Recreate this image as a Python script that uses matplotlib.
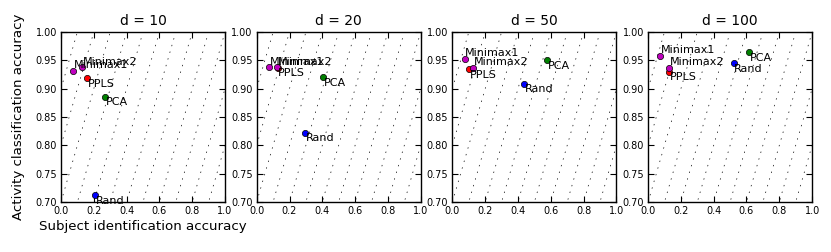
import numpy as np
import matplotlib
matplotlib.use("Agg")
import matplotlib.pyplot as plt

titles = ["d = 10", "d = 20", "d = 50", "d = 100"]
methods = ["Rand", "PCA", "PPLS", "Minimax2", "Minimax1"]
colors = {"Rand": "b", "PCA": "g", "PPLS": "r", "Minimax2": "m", "Minimax1": "m"}

# subject identification accuracy (x) per panel, in order of `methods`
subj_acc = [
    [0.205, 0.266, 0.160, 0.126, 0.075],
    [0.294, 0.407, 0.127, 0.125, 0.074],
    [0.439, 0.579, 0.102, 0.127, 0.074],
    [0.521, 0.618, 0.129, 0.129, 0.070],
]
# activity classification accuracy (y)
act_acc = [
    [0.712, 0.886, 0.918, 0.938, 0.932],
    [0.822, 0.920, 0.937, 0.938, 0.938],
    [0.909, 0.950, 0.934, 0.937, 0.953],
    [0.945, 0.964, 0.930, 0.937, 0.958],
]
# offsets of dotted iso-lines y = x + b
iso_offsets = np.arange(-0.3, 1.01, 0.1)

xticks = [0.0, 0.2, 0.4, 0.6, 0.8, 1.0]
yticks = [0.70, 0.75, 0.80, 0.85, 0.90, 0.95, 1.00]

plt.rcParams['font.family'] = ['DejaVu Sans']
fig = plt.figure(figsize=(8.31, 2.52), dpi=100)

left0 = 61 / 831
step = 195.7 / 831
w = 164 / 831
bottom = 50 / 252
h = 170 / 252

for i in range(4):
    ax = fig.add_axes([left0 + i * step, bottom, w, h])
    xs = np.array([0.0, 1.0])
    for b in iso_offsets:
        ax.plot(xs, xs + b, color='k', lw=0.5, dashes=(2, 8), zorder=1)
    for j, m in enumerate(methods):
        x = subj_acc[i][j]
        y = act_acc[i][j]
        ax.plot([x], [y], 'o', color=colors[m], markersize=4.5,
                markeredgecolor='k', markeredgewidth=0.5, zorder=3)
        if m.startswith("Minimax"):
            ax.text(x + 0.005, y + 0.001, m, fontsize=8, ha='left', va='bottom', zorder=4)
        else:
            ax.text(x + 0.005, y - 0.001, m, fontsize=8, ha='left', va='top', zorder=4)
    ax.set_xlim(0, 1)
    ax.set_ylim(0.7, 1.0)
    ax.set_xticks(xticks)
    ax.set_yticks(yticks)
    ax.set_xticklabels([f"{t:.1f}" for t in xticks])
    ax.set_yticklabels([f"{t:.2f}" for t in yticks])
    ax.tick_params(direction='in', top=True, right=True, length=4, width=0.8,
                   labelsize=7, pad=3)
    for s in ax.spines.values():
        s.set_linewidth(1.0)
    ax.set_title(titles[i], fontsize=10, pad=5)
    if i == 0:
        ax.set_xlabel("Subject identification accuracy", fontsize=9.6, labelpad=2.5)
        ax.set_ylabel("Activity classification accuracy", fontsize=9.6, labelpad=7)

fig.savefig("out.png", dpi=100)
